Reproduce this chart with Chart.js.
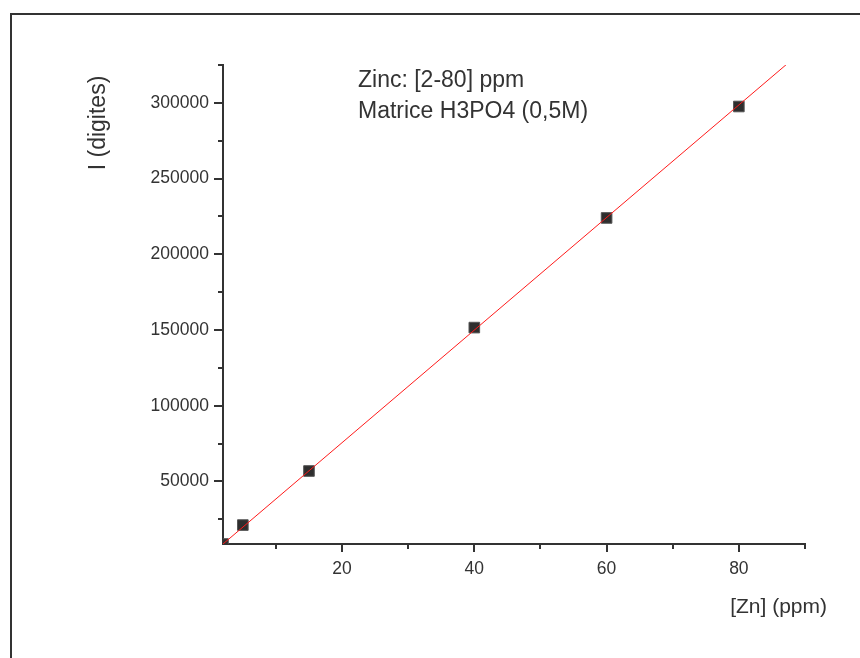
<!DOCTYPE html>
<html>
<head>
<meta charset="utf-8">
<script src="https://cdn.jsdelivr.net/npm/chart.js@4.4.1/dist/chart.umd.min.js"></script>
<style>
  html, body { margin: 0; padding: 0; background: #fff; }
  #wrap { width: 860px; height: 658px; }
</style>
</head>
<body>
<div id="wrap"><canvas id="myChart" width="860" height="658"></canvas></div>
<script>
// concentrations (ppm) and intensities (digites)
var concZn = [2, 5, 15, 40, 60, 80];
var intensite = [8700, 21200, 56900, 151600, 224000, 297600];
// fitted line end points
var fitX = [2, 90];
var fitY = [8700, 335800];
// tick values
var xTicks = [10, 20, 30, 40, 50, 60, 70, 80, 90];
var xLabels = [20, 40, 60, 80];
var yTicks = [25000, 50000, 75000, 100000, 125000, 150000, 175000, 200000, 225000, 250000, 275000, 300000, 325000];
var yLabels = [50000, 100000, 150000, 200000, 250000, 300000];

var ink = '#333333';
var police = '"Liberation Sans", Arial, Helvetica, sans-serif';

var points = concZn.map(function(x, i) { return { x: x, y: intensite[i] }; });
var droite = fitX.map(function(x, i) { return { x: x, y: fitY[i] }; });

// frame, tick marks, titles and the note
var decor = {
  id: 'decor',
  beforeDraw: function(chart) {
    var ctx = chart.ctx;
    ctx.save();
    ctx.fillStyle = '#fff';
    ctx.fillRect(0, 0, chart.width, chart.height);
    ctx.strokeStyle = ink;
    ctx.lineWidth = 2;
    ctx.beginPath();
    ctx.moveTo(11, 660);
    ctx.lineTo(11, 14);
    ctx.lineTo(862, 14);
    ctx.stroke();
    ctx.restore();
  },
  afterDraw: function(chart) {
    var ctx = chart.ctx;
    var a = chart.chartArea;
    var sx = chart.scales.x, sy = chart.scales.y;
    ctx.save();
    ctx.strokeStyle = ink;
    ctx.lineWidth = 2;
    ctx.beginPath();
    xTicks.forEach(function(v) {
      var px = Math.round(sx.getPixelForValue(v));
      var len = xLabels.indexOf(v) >= 0 ? 8 : 5;
      ctx.moveTo(px, a.bottom);
      ctx.lineTo(px, a.bottom + len);
    });
    yTicks.forEach(function(v) {
      var py = Math.round(sy.getPixelForValue(v));
      var len = yLabels.indexOf(v) >= 0 ? 9 : 5;
      ctx.moveTo(a.left, py);
      ctx.lineTo(a.left - len, py);
    });
    ctx.stroke();

    ctx.fillStyle = ink;
    ctx.font = '23px ' + police;
    ctx.textBaseline = 'alphabetic';
    ctx.textAlign = 'left';
    ctx.fillText('Zinc: [2-80] ppm', 358, 87);
    ctx.fillText('Matrice H3PO4 (0,5M)', 358, 118);
    ctx.font = '21px ' + police;
    ctx.textAlign = 'right';
    ctx.fillText('[Zn] (ppm)', 827, 613);

    ctx.font = '23px ' + police;
    ctx.translate(105, 123);
    ctx.rotate(-Math.PI / 2);
    ctx.textAlign = 'center';
    ctx.fillText('I (digites)', 0, 0);
    ctx.restore();
  }
};

function brut(v) { return String(v); }

var ctx = document.getElementById('myChart').getContext('2d');
var myChart = new Chart(ctx, {
  type: 'scatter',
  data: {
    datasets: [
      {
        type: 'line',
        data: droite,
        borderColor: '#ff1a1a',
        borderWidth: 1,
        pointRadius: 0,
        fill: false
      },
      {
        data: points,
        pointStyle: 'rect',
        pointRadius: 7.5,
        pointHoverRadius: 7.5,
        backgroundColor: '#2e2e2e',
        borderColor: '#555555',
        borderWidth: 1,
        clip: 0
      }
    ]
  },
  options: {
    responsive: false,
    animation: false,
    events: [],
    layout: { padding: { top: 65, right: 55, left: 0, bottom: 0 } },
    plugins: {
      legend: { display: false },
      tooltip: { enabled: false }
    },
    scales: {
      x: {
        type: 'linear',
        min: 2,
        max: 90,
        afterFit: function(s) { s.height = 114; },
        afterBuildTicks: function(s) {
          s.ticks = xLabels.map(function(v) { return { value: v }; });
        },
        grid: { drawOnChartArea: false, drawTicks: false },
        border: { display: true, color: ink, width: 2 },
        ticks: { color: ink, padding: 15, maxRotation: 0, callback: brut, font: { size: 17.5, family: police } }
      },
      y: {
        type: 'linear',
        min: 8700,
        max: 325000,
        afterFit: function(s) { s.width = 223; },
        afterBuildTicks: function(s) {
          s.ticks = yLabels.map(function(v) { return { value: v }; });
        },
        grid: { drawOnChartArea: false, drawTicks: false },
        border: { display: true, color: ink, width: 2 },
        ticks: { color: ink, padding: 14, callback: brut, font: { size: 17.5, family: police } }
      }
    }
  },
  plugins: [decor]
});
</script>
</body>
</html>
